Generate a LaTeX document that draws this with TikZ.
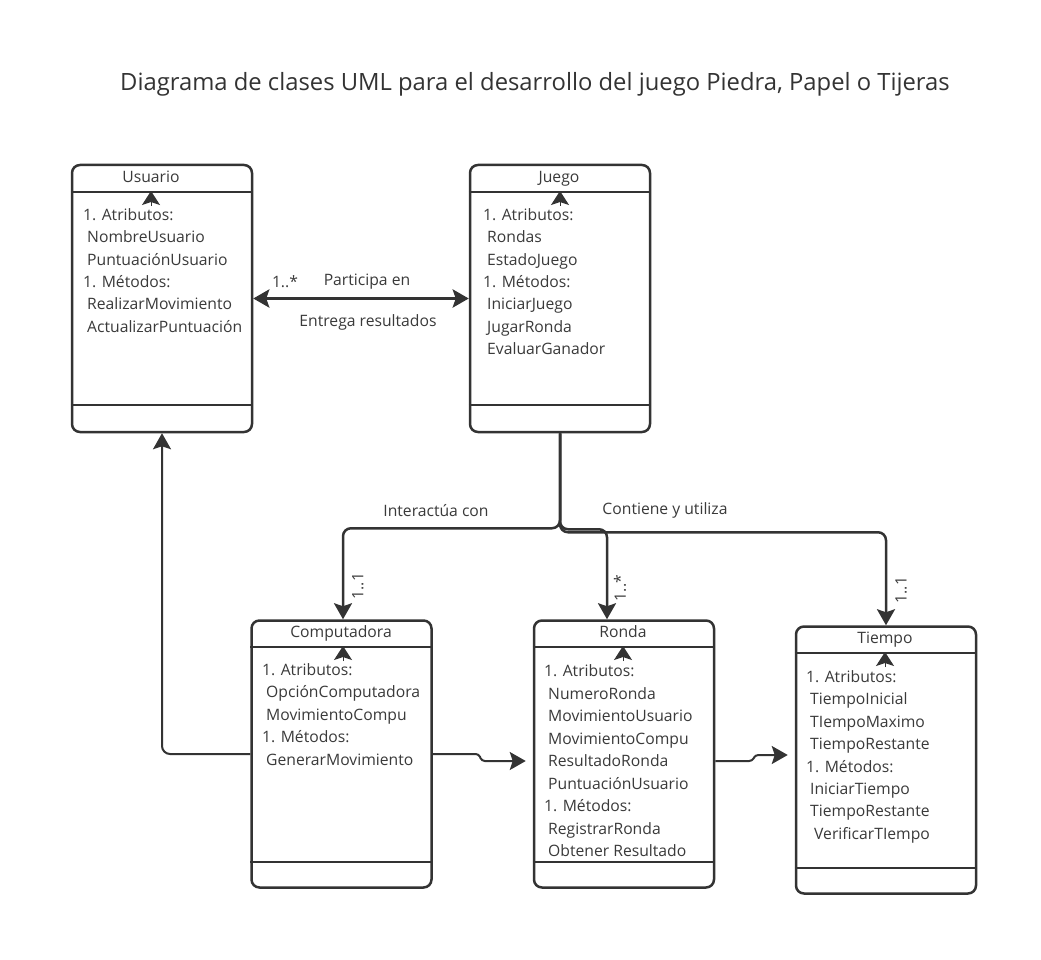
\documentclass[tikz,border=0pt]{standalone}
\usepackage{fontspec}
\setmainfont{Open Sans}
\usetikzlibrary{arrows.meta,calc}
\definecolor{ln}{HTML}{333333}
\definecolor{tx}{HTML}{3A3A3A}
\begin{document}
\begin{tikzpicture}[x=1pt,y=-1pt,
  cls/.style={draw=ln, line width=2.5pt, rounded corners=8pt, minimum width=180pt, minimum height=267pt, inner sep=0pt, fill=white},
  sep/.style={draw=ln, line width=2.5pt},
  txt/.style={font=\fontsize{15.7}{18}\selectfont, text=tx, anchor=base west, inner sep=0pt},
  lbl/.style={font=\fontsize{15.7}{18}\selectfont, text=tx, inner sep=0pt},
  tip/.style={-{Stealth[length=16pt,width=18pt,inset=3pt]}},
  conn/.style={draw=ln, line width=2.5pt, rounded corners=8pt, tip},
  stub/.style={draw=ln, line width=1pt, -{Stealth[length=14pt,width=18pt,inset=3pt]}}
]
\useasboundingbox[fill=white] (0,0) rectangle (1041,960);

% title
\node[font=\fontsize{23.8}{28}\selectfont, text=ln, inner sep=0pt, anchor=base] (title) at (535,91) {Diagrama de clases UML para el desarrollo del juego Piedra, Papel o Tijeras};

% class boxes
\node[cls] (usuario) at (162,298.5) {};
\node[cls] (juego) at (560,298.5) {};
\node[cls] (comp) at (341.5,754) {};
\node[cls] (ronda) at (624,754) {};
\node[cls] (tiempo) at (886,760) {};

% header and footer separators
\draw[sep] (usuario.west |- 0,192) -- (usuario.east |- 0,192);
\draw[sep] (usuario.west |- 0,405) -- (usuario.east |- 0,405);
\draw[sep] (juego.west |- 0,192) -- (juego.east |- 0,192);
\draw[sep] (juego.west |- 0,405) -- (juego.east |- 0,405);
\draw[sep] (comp.west |- 0,647) -- (comp.east |- 0,647);
\draw[sep] (comp.west |- 0,862) -- (comp.east |- 0,862);
\draw[sep] (ronda.west |- 0,647) -- (ronda.east |- 0,647);
\draw[sep] (ronda.west |- 0,862) -- (ronda.east |- 0,862);
\draw[sep] (tiempo.west |- 0,653) -- (tiempo.east |- 0,653);
\draw[sep] (tiempo.west |- 0,868) -- (tiempo.east |- 0,868);

% class names
\node[lbl, anchor=base] (usuario-name) at (151,182.5) {Usuario};
\node[lbl, anchor=base] (juego-name) at (559,182.5) {Juego};
\node[lbl, anchor=base] (comp-name) at (341,637.5) {Computadora};
\node[lbl, anchor=base] (ronda-name) at (623,637.5) {Ronda};
\node[lbl, anchor=base] (tiempo-name) at (885,643.5) {Tiempo};

% small arrowheads under headers
\coordinate (us-a) at (151,206); \coordinate (us-b) at (151,191);
\coordinate (ju-a) at (560,206); \coordinate (ju-b) at (560,191);
\coordinate (co-a) at (343,661); \coordinate (co-b) at (343,646);
\coordinate (ro-a) at (623,661); \coordinate (ro-b) at (623,646);
\coordinate (ti-a) at (885,667); \coordinate (ti-b) at (885,652);
\draw[stub] (us-a) -- (us-b);
\draw[stub] (ju-a) -- (ju-b);
\draw[stub] (co-a) -- (co-b);
\draw[stub] (ro-a) -- (ro-b);
\draw[stub] (ti-a) -- (ti-b);

% attributes / methods
\node[txt] (u0) at (83,220.5) {1. Atributos:};
\node[txt] (u1) at (87,242.8) {NombreUsuario};
\node[txt] (u2) at (87,265.1) {PuntuaciónUsuario};
\node[txt] (u3) at (83,287.4) {1. Métodos:};
\node[txt] (u4) at (87,309.7) {RealizarMovimiento};
\node[txt] (u5) at (87,332) {ActualizarPuntuación};

\node[txt] (j0) at (483,220.5) {1. Atributos:};
\node[txt] (j1) at (487,242.8) {Rondas};
\node[txt] (j2) at (487,265.1) {EstadoJuego};
\node[txt] (j3) at (483,287.4) {1. Métodos:};
\node[txt] (j4) at (487,309.7) {IniciarJuego};
\node[txt] (j5) at (487,332) {JugarRonda};
\node[txt] (j6) at (487,354.3) {EvaluarGanador};

\node[txt] (c0) at (262,675.5) {1. Atributos:};
\node[txt] (c1) at (266,697.9) {OpciónComputadora};
\node[txt] (c2) at (266,720.3) {MovimientoCompu};
\node[txt] (c3) at (262,742.7) {1. Métodos:};
\node[txt] (c4) at (266,765.1) {GenerarMovimiento};

\node[txt] (r0) at (544,676.5) {1. Atributos:};
\node[txt] (r1) at (548,699) {NumeroRonda};
\node[txt] (r2) at (548,721.5) {MovimientoUsuario};
\node[txt] (r3) at (548,744) {MovimientoCompu};
\node[txt] (r4) at (548,766.5) {ResultadoRonda};
\node[txt] (r5) at (548,789) {PuntuaciónUsuario};
\node[txt] (r6) at (544,811.5) {1. Métodos:};
\node[txt] (r7) at (548,834) {RegistrarRonda};
\node[txt] (r8) at (548,856.5) {Obtener Resultado};

\node[txt] (t0) at (806,682.5) {1. Atributos:};
\node[txt] (t1) at (810,704.9) {TiempoInicial};
\node[txt] (t2) at (810,727.3) {TIempoMaximo};
\node[txt] (t3) at (810,749.7) {TiempoRestante};
\node[txt] (t4) at (806,772.1) {1. Métodos:};
\node[txt] (t5) at (810,794.5) {IniciarTiempo};
\node[txt] (t6) at (810,816.9) {TiempoRestante};
\node[txt] (t7) at (814,839.3) {VerificarTIempo};

% connectors
\draw[draw=ln, line width=3.5pt, {Stealth[length=16pt,width=18pt,inset=3pt]}-{Stealth[length=16pt,width=18pt,inset=3pt]}] (usuario.east) -- (juego.west);
\node[lbl] (l-mult) at (285,282) {1..*};
\node[lbl] (l-part) at (367,282) {Participa en};
\node[lbl] (l-entr) at (368,322) {Entrega resultados};

\draw[conn] (juego.south) -- ++(0,95) -| ($(comp.north)+(1.5,0)$);
\draw[conn] (juego.south) -- ++(0,96) -| ($(ronda.north)+(-17,0)$);
\draw[conn] (juego.south) -- ++(0,99) -| (tiempo.north);
\node[lbl] (l-inter) at (436,511) {Interactúa con};
\node[lbl] (l-cont) at (665,510) {Contiene y utiliza};
\node[lbl, rotate=90] (l-c11) at (358,586) {1..1};
\node[lbl, rotate=90] (l-r1s) at (620,588) {1..*};
\node[lbl, rotate=90] (l-t11) at (901,590) {1..1};

\draw[conn, line width=2pt] (comp.west) -| (usuario.south);
\draw[conn, line width=2pt, rounded corners=3pt] (comp.east) -- ++(46,0) -- ++(3,7) -- ($(ronda.west)+(-7,7)$);
\draw[conn, line width=2pt, rounded corners=3pt] ($(ronda.east)+(0,7)$) -- ++(37,0) -- ++(3,-6) -- ($(tiempo.west)+(-7,-5)$);
\end{tikzpicture}
\end{document}
